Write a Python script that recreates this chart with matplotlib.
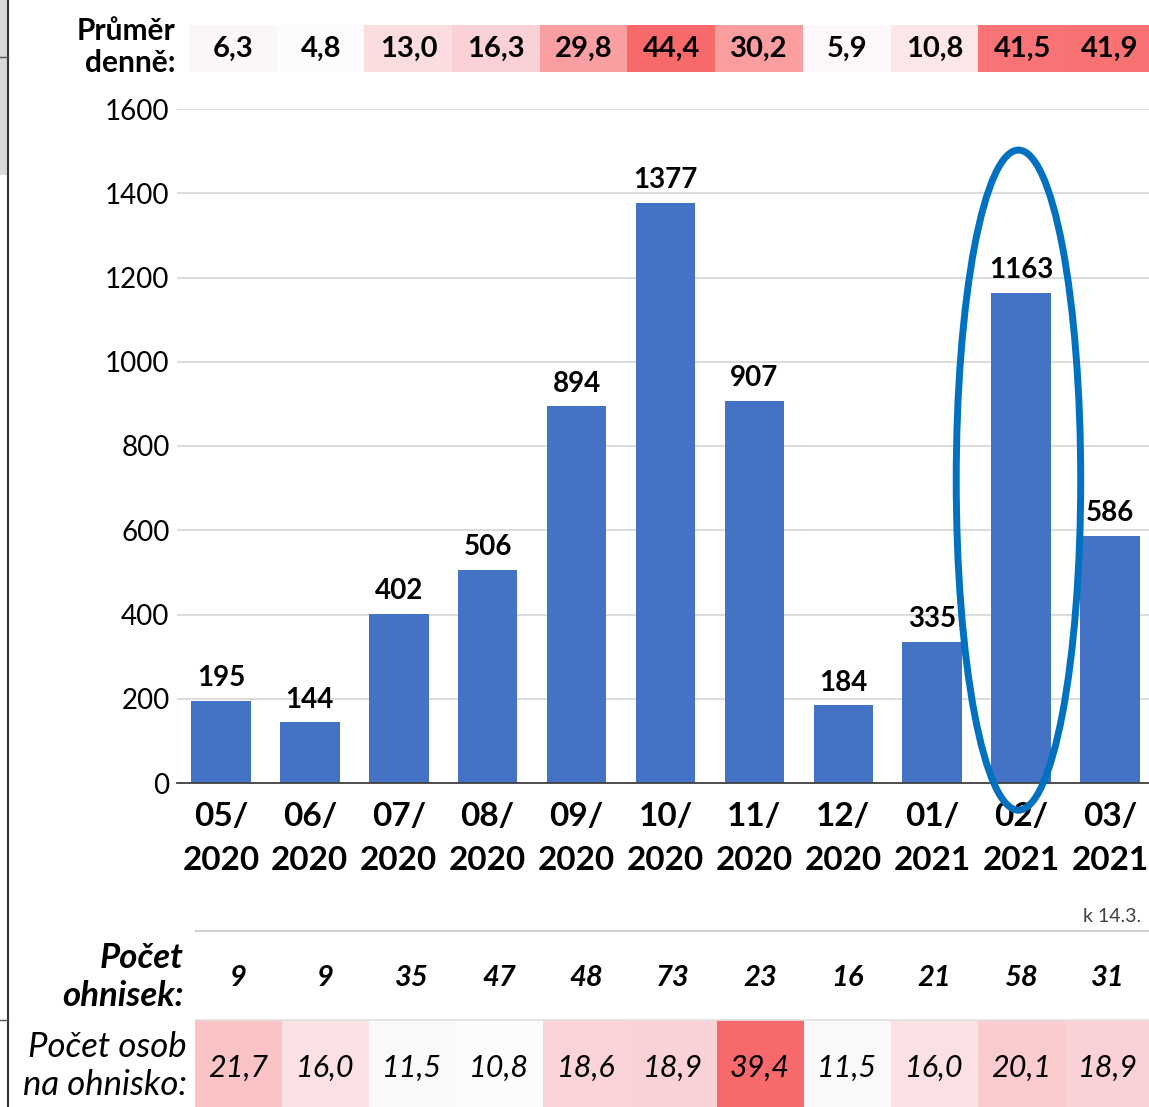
import matplotlib.pyplot as plt
import numpy as np
from matplotlib.colors import LinearSegmentedColormap
from matplotlib.patches import Ellipse, Rectangle
from matplotlib.lines import Line2D

plt.rcParams['font.family'] = ['Lato', 'DejaVu Sans']

# data
months = ["05/\n2020", "06/\n2020", "07/\n2020", "08/\n2020", "09/\n2020", "10/\n2020",
          "11/\n2020", "12/\n2020", "01/\n2021", "02/\n2021", "03/\n2021"]
counts = [195, 144, 402, 506, 894, 1377, 907, 184, 335, 1163, 586]
daily_avg = [6.3, 4.8, 13.0, 16.3, 29.8, 44.4, 30.2, 5.9, 10.8, 41.5, 41.9]
outbreaks = [9, 9, 35, 47, 48, 73, 23, 16, 21, 58, 31]
per_outbreak = [21.7, 16.0, 11.5, 10.8, 18.6, 18.9, 39.4, 11.5, 16.0, 20.1, 18.9]
highlight = 9  # 02/2021

W, H = 1149, 1107
fig = plt.figure(figsize=(W / 100, H / 100), dpi=100)

def px_axes(x0, x1, y0, y1):
    # pixel box (top-left origin) -> figure axes
    return fig.add_axes([x0 / W, (H - y1) / H, (x1 - x0) / W, (y1 - y0) / H])

cmap = LinearSegmentedColormap.from_list("wr", ["#FCFCFF", "#F8696B"])

def fmt(v):
    return f"{v:.1f}".replace(".", ",")

# main bar chart
ax = px_axes(176.5, 1154.5, 109, 783)
x = np.arange(len(counts))
bars = ax.bar(x, counts, width=0.67, color="#4472C4", zorder=2)
ax.set_xlim(-0.5, len(counts) - 0.5)
ax.set_ylim(0, 1600)
ax.set_yticks(np.arange(0, 1601, 200))
ax.yaxis.grid(True, color="#D9D9D9", lw=1.3, zorder=0)
ax.set_axisbelow(True)
for s in ["top", "right", "left"]:
    ax.spines[s].set_visible(False)
ax.spines["bottom"].set_color("#404040")
ax.spines["bottom"].set_linewidth(1.3)
ax.tick_params(axis="y", length=0, labelsize=20, pad=5)
ax.tick_params(axis="x", length=0, pad=14)
ax.set_xticks(x)
ax.set_xticklabels(months, fontsize=24, fontweight="bold", linespacing=1.6)
ax.bar_label(bars, labels=[str(c) for c in counts], padding=7, fontsize=20, fontweight="bold")

ell = Ellipse((highlight - 0.03, 719), 1.4, 1567, fill=False, ec="#0070C0", lw=5,
              clip_on=False, zorder=5)
ax.add_patch(ell)

# top row: daily average
top = px_axes(189.15, 1153.85, 25, 72)
top.imshow(np.array([daily_avg]), cmap=cmap, aspect="auto",
           extent=(-0.5, len(daily_avg) - 0.5, 1, 0))
for i, v in enumerate(daily_avg):
    top.text(i, 0.5, fmt(v), ha="center", va="center", fontsize=21, fontweight="bold")
top.set_xlim(-0.5, len(daily_avg) - 0.5)
top.set_ylim(1, 0)
top.axis("off")
fig.text(175 / W, 1 - 47 / H, "Průměr\ndenně:", ha="right", va="center",
         fontsize=21.5, fontweight="bold", linespacing=1.2)

# bottom table
bot = px_axes(194.5, 1151.5, 930, 1116)
bot.imshow(np.array([per_outbreak]), cmap=cmap, aspect="auto",
           extent=(-0.5, len(per_outbreak) - 0.5, 186, 90))
bot.set_xlim(-0.5, len(outbreaks) - 0.5)
bot.set_ylim(186, 0)
bot.axhline(1, color="#D0D0D0", lw=1.5)
bot.axhline(90, color="#E0E0E0", lw=1.2)
for i, (n, p) in enumerate(zip(outbreaks, per_outbreak)):
    bot.text(i, 48, str(n), ha="center", va="center", fontsize=21,
             fontweight="bold", fontstyle="italic")
    bot.text(i, 138, fmt(p), ha="center", va="center", fontsize=22, fontstyle="italic")
bot.axis("off")
fig.text(184 / W, 1 - 977 / H, "Počet\nohnisek:", ha="right", va="center",
         fontsize=25, fontweight="bold", fontstyle="italic", linespacing=1.25)
fig.text(187 / W, 1 - 1066 / H, "Počet osob\nna ohnisko:", ha="right", va="center",
         fontsize=25, fontstyle="italic", linespacing=1.25)
fig.text(1141 / W, 1 - 916 / H, "k 14.3.", ha="right", va="center", fontsize=14,
         color="#404040")

# cropped slide edge on the left
fig.add_artist(Rectangle((0, 1 - 175 / H), 7 / W, 175 / H, transform=fig.transFigure,
                         color="#DADADA", lw=0))
fig.add_artist(Line2D([8 / W, 8 / W], [0, 1], transform=fig.transFigure, color="#333333", lw=1.5))
for yy in [57, 1020]:
    fig.add_artist(Line2D([0, 8 / W], [1 - yy / H] * 2, transform=fig.transFigure,
                          color="#555555", lw=1))

fig.savefig("out.png", dpi=100)
